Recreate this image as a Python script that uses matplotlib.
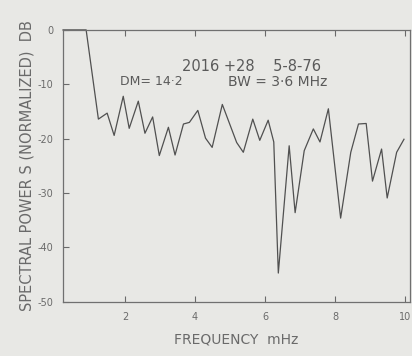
import matplotlib
matplotlib.use('Agg')
import matplotlib.pyplot as plt
import numpy as np

# spectrum
freq = [0.23, 0.55, 0.89, 1.24, 1.49, 1.69, 1.95, 2.12, 2.38, 2.57, 2.79, 2.98,
        3.24, 3.43, 3.67, 3.84, 4.08, 4.30, 4.49, 4.78, 5.19, 5.38, 5.65, 5.85,
        6.09, 6.25, 6.38, 6.69, 6.86, 7.12, 7.38, 7.57, 7.81, 8.16, 8.45, 8.67,
        8.89, 9.07, 9.33, 9.49, 9.76, 9.97]
power = [0, 0, 0, -16.4, -15.3, -19.4, -12.2, -18.1, -13.1, -19.0, -16.0, -23.1,
         -17.9, -23.0, -17.3, -17.0, -14.8, -19.9, -21.6, -13.7, -20.7, -22.5, -16.4, -20.3,
         -16.6, -20.6, -44.7, -21.3, -33.6, -22.2, -18.2, -20.6, -14.5, -34.6, -22.5, -17.3,
         -17.2, -27.8, -21.9, -30.9, -22.5, -20.1]

xticks = [2, 4, 6, 8, 10]
yticks = [0, -10, -20, -30, -40, -50]

paper = '#e8e8e5'
ink = '#6a6a6a'

fig = plt.figure(figsize=(4.12, 3.56), dpi=100, facecolor=paper)
ax = fig.add_axes([0.153, 0.152, 0.842, 0.764], facecolor=paper)

ax.plot(freq, power, color='#505050', linewidth=0.9, clip_on=False)

ax.set_xlim(0.23, 10.14)
ax.set_ylim(-50, 0)
ax.set_xticks(xticks)
ax.set_yticks(yticks)
ax.set_xticklabels([str(t) for t in xticks])
ax.set_yticklabels([('-' + str(-t)) if t < 0 else '0' for t in yticks])
ax.tick_params(direction='in', length=4, width=0.8, color=ink, labelcolor=ink,
               labelsize=7, top=True, pad=7)
for s in ax.spines.values():
    s.set_color('#707070')
    s.set_linewidth(0.9)

ax.set_xlabel('FREQUENCY  mHz', fontsize=10, color=ink, labelpad=8)
ax.set_ylabel('SPECTRAL POWER S (NORMALIZED)  DB', fontsize=10.5, color=ink, labelpad=2)

ax.text(0.343, 0.864, '2016 +28    5-8-76', transform=ax.transAxes,
        fontsize=10.5, color='#5a5a5a', ha='left', va='center')
ax.text(0.165, 0.809, 'DM= 14·2', transform=ax.transAxes,
        fontsize=9, color='#5a5a5a', ha='left', va='center')
ax.text(0.475, 0.809, 'BW = 3·6 MHz', transform=ax.transAxes,
        fontsize=10, color='#5a5a5a', ha='left', va='center')

fig.savefig('out.png', dpi=100, facecolor=paper)
